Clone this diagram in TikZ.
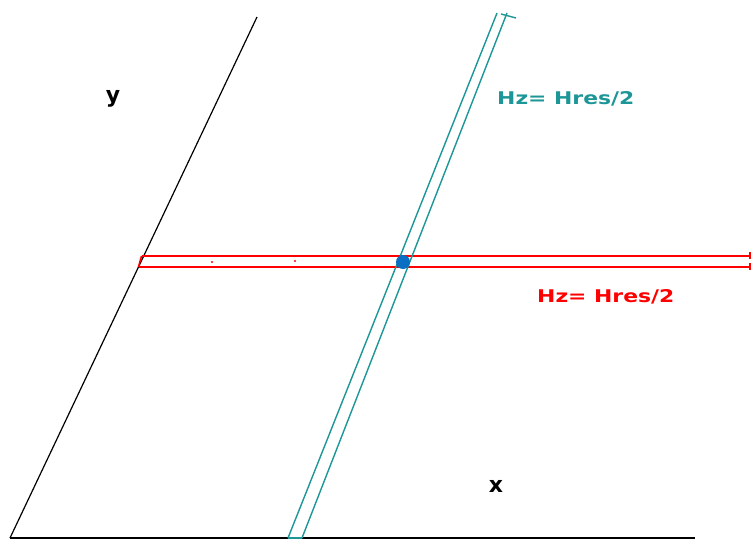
\documentclass[tikz,border=0pt]{standalone}
\usepackage{fontspec}
\setmainfont{DejaVu Sans}
\usetikzlibrary{calc}
\definecolor{bandT}{RGB}{28,150,150}
\definecolor{bandR}{RGB}{255,0,0}
\definecolor{dotB}{RGB}{10,110,195}

\begin{document}
\begin{tikzpicture}[
  x=1pt, y=-1pt,
  axis/.style={line width=1.2pt, draw=black},
  tband/.style={line width=1.4pt, draw=bandT},
  rband/.style={line width=1.6pt, draw=bandR},
  lbl/.style={font=\bfseries\fontsize{17.5}{20}\selectfont, inner sep=0pt, anchor=base west},
  axlbl/.style={font=\bfseries\fontsize{22}{24}\selectfont, inner sep=0pt},
]
\useasboundingbox (0,0) rectangle (756,541);

% ---------- axes ----------
\coordinate (o) at (10,538);
\coordinate (xend) at (695,538);
\coordinate (yend) at (257,17);
\draw[axis] (o) -- (xend);
\draw[axis] (o) -- (yend);

% ---------- red band (constant y) ----------
\coordinate (rtl) at (141.5,256);
\coordinate (rbl) at (138.5,267);
\coordinate (rtr) at (750,256);
\coordinate (rbr) at (750,267);
\draw[rband] (rtl) -- (rtr);
\draw[rband] (rbl) -- (rbr);
\draw[rband] (rtl) -- (rbl);
\draw[rband] (750,252) -- (750,259) (750,263) -- (750,270);
\fill[bandR] (212,262) circle (1.2pt);
\fill[bandR] (295,261) circle (1.2pt);

% ---------- teal band (slanted) ----------
\coordinate (tbl) at (288,538);
\coordinate (tbr) at (302,538);
\coordinate (ttl) at (497,13);
\coordinate (ttr) at (507,13);
\draw[tband] (tbl) -- (ttl);
\draw[tband] (tbr) -- (ttr);
\draw[tband] (tbl) -- (tbr);
\draw[tband] (501,14) -- (516,18);

% ---------- crossing point ----------
\fill[dotB] (403,262) circle (7pt);

% ---------- labels ----------
\node[lbl, text=bandT] (lt) at (497,104) {\scalebox{1.25}[1]{Hz= Hres/2}};
\node[lbl, text=bandR] (lr) at (537,302) {\scalebox{1.25}[1]{Hz= Hres/2}};
\node[axlbl] (ly) at (113,99) {y};
\node[axlbl] (lx) at (496,486) {x};

\end{tikzpicture}
\end{document}
